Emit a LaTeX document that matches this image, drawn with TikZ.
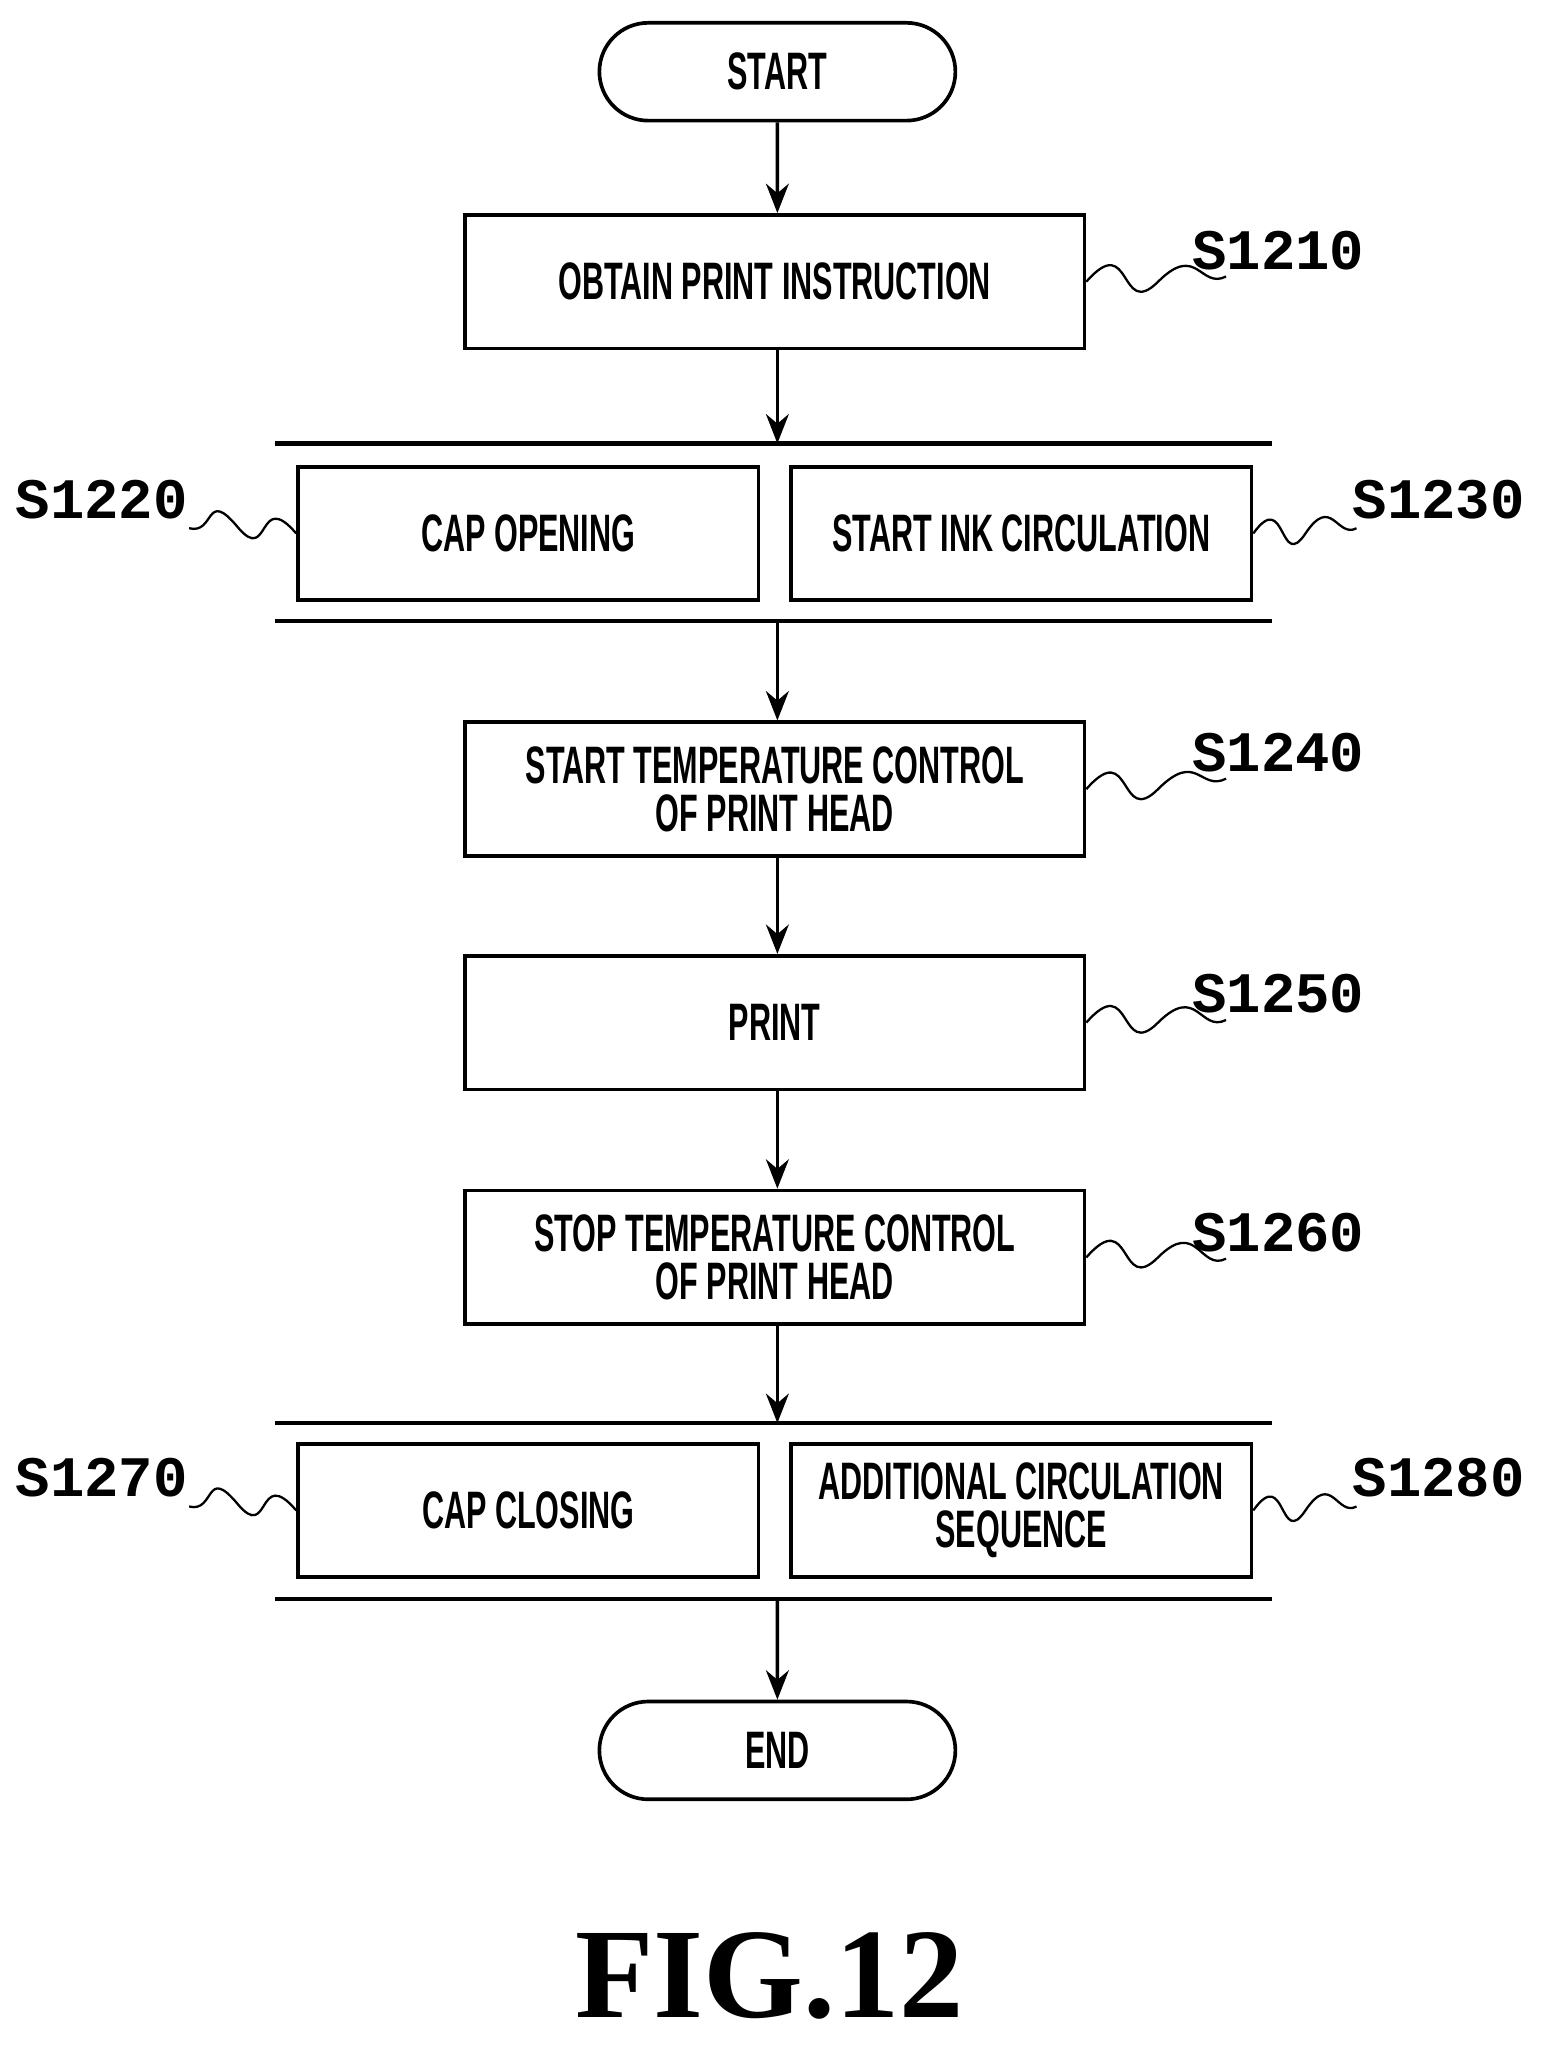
\documentclass[tikz,border=0pt]{standalone}
\usepackage{fontspec}
\setmainfont{Liberation Sans}
\newfontfamily\boxfont[FakeStretch=0.58]{Liberation Sans}
\newfontfamily\stepfont{Liberation Mono}
\newfontfamily\figfont{Liberation Serif}
\usetikzlibrary{positioning}
\usetikzlibrary{shapes.misc}
\usetikzlibrary{arrows.meta}
\def\mybarl{211}
\def\mybarr{975}
\tikzset{
flow/.style={line width=1.6pt,>={Stealth[length=4.5mm,width=3.5mm]}},
my node/.style={inner sep=1mm,align=center,font=\boxfont\bfseries\fontsize{23}{25}\selectfont},
proc/.style={draw,my node,rectangle,minimum width=9.5cm,minimum height=2.05cm},
half/.style={draw,my node,rectangle,minimum width=7.06cm,minimum height=2.04cm},
term/.style={draw,my node,rounded rectangle,minimum width=5.66cm,minimum height=1.5cm},
tag/.style={font=\stepfont\bfseries\fontsize{25}{27}\selectfont,inner sep=0pt},
wave/.style={line width=1pt},
bar/.style={line width=1.8pt},
}
\begin{document}
\begin{tikzpicture}[x=0.02cm,y=-0.02cm,flow]
\useasboundingbox (0,0) rectangle (1186,1574);
% terminals and steps
\node[term] (start) at (596,55) {START};
\node[proc] (s1210) at (594,216) {OBTAIN PRINT INSTRUCTION};
\node[half] (s1220) at (405,409) {CAP OPENING};
\node[half] (s1230) at (783,409) {START INK CIRCULATION};
\node[proc] (s1240) at (594,605) {START TEMPERATURE CONTROL\\[-4pt]OF PRINT HEAD};
\node[proc] (s1250) at (594,784) {PRINT};
\node[proc] (s1260) at (594,964) {STOP TEMPERATURE CONTROL\\[-4pt]OF PRINT HEAD};
\node[half] (s1270) at (405,1158) {CAP CLOSING};
\node[half] (s1280) at (783,1158) {ADDITIONAL CIRCULATION\\[-4pt]SEQUENCE};
\node[term] (end) at (596,1342) {END};
% parallel bars
\coordinate (b1) at (596,340);
\coordinate (b2) at (596,476);
\coordinate (b3) at (596,1091);
\coordinate (b4) at (596,1226);
\foreach \y in {340,476,1091,1226}
  \draw[bar] (\mybarl,\y) -- (\mybarr,\y);
% flow
\draw[->] (start) -- (s1210.north -| start);
\draw[->] (s1210.south -| start) -- (b1);
\draw[->] (b2) -- (s1240.north -| start);
\draw[->] (s1240.south -| start) -- (s1250.north -| start);
\draw[->] (s1250.south -| start) -- (s1260.north -| start);
\draw[->] (s1260.south -| start) -- (b3);
\draw[->] (b4) -- (end);
% step tags
\foreach \n/\y in {1210/192,1240/577,1250/762,1260/945}{
  \node[tag] (t\n) at (980,\y) {S\n};
  \coordinate (w\n) at (940,\y+20);
  \draw[wave] (s\n.east) .. controls +(35,-40) and +(-30,30) .. ++(55,0) .. controls +(30,-30) and +(-20,10) .. (w\n);
}
\foreach \n/\y in {1220/383,1270/1133}{
  \node[tag] (t\n) at (78,\y) {S\n};
  \coordinate (w\n) at (145,\y+22);
  \draw[wave] (s\n.west) .. controls +(-30,-35) and +(25,30) .. ++(-45,-5) .. controls +(-25,-30) and +(20,5) .. (w\n);
}
\foreach \n/\y in {1230/383,1280/1133}{
  \node[tag] (t\n) at (1103,\y) {S\n};
  \coordinate (w\n) at (1040,\y+22);
  \draw[wave] (s\n.east) .. controls +(25,-35) and +(-20,30) .. ++(40,0) .. controls +(20,-30) and +(-15,8) .. (w\n);
}
\node[font=\figfont\bfseries\fontsize{56}{56}\selectfont] (fig) at (590,1515) {FIG.12};
\end{tikzpicture}
\end{document}
